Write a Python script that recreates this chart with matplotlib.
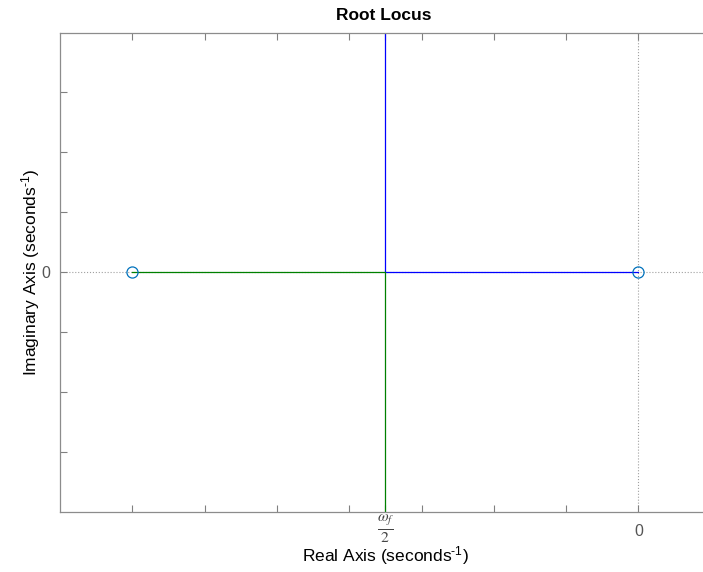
import matplotlib
matplotlib.use("Agg")
import matplotlib.pyplot as plt
import matplotlib.transforms as mtransforms

plt.rcParams['font.family'] = ['Liberation Sans', 'DejaVu Sans']
plt.rcParams['mathtext.fontset'] = 'custom'
plt.rcParams['mathtext.rm'] = 'Liberation Sans'
plt.rcParams['mathtext.it'] = 'Liberation Sans:italic'

# zeros of the open-loop system (real axis)
zeros_re = [-7.0, 0.0]
zeros_im = [0.0, 0.0]
# breakaway point (omega_f / 2)
brk = -3.5

# branch 1 (blue): from zero at 0 to breakaway, then upward
b1_re = [0.0, brk, brk]
b1_im = [0.0, 0.0, 4.0]
# branch 2 (green): from zero at -7 to breakaway, then downward
b2_re = [-7.0, brk, brk]
b2_im = [0.0, 0.0, -4.0]

xticks = [-7, -6, -5, -4, -3.5, -3, -2, -1, 0]
xlabels = ['', '', '', '', '', '', '', '', '0']
brk_label = r'$\frac{\omega_f}{2}$'
yticks = [-3, -2, -1, 0, 1, 2, 3]
ylabels = ['', '', '', '0', '', '', '']

fig = plt.figure(figsize=(7.03, 5.72), dpi=100)
unit = 72.3
ax_w = 9.5 * unit
ax = fig.add_axes([60 / 703, 1 - 512 / 572, ax_w / 703, 479.5 / 572])

ax.axhline(0, color='#a0a0a0', ls=':', lw=0.8, zorder=1)
ax.axvline(0, color='#a0a0a0', ls=':', lw=0.8, zorder=1)

ax.plot(b1_re, b1_im, color='#0000ff', lw=0.9, zorder=2)
ax.plot(b2_re, b2_im, color='#008000', lw=0.9, zorder=2)
ax.plot(zeros_re, zeros_im, 'o', mfc='none', mec='#0072bd', ms=8, mew=0.9, zorder=3)

ax.set_xlim(-8, 1.5)
ax.set_ylim(-4, 4)
ax.set_xticks(xticks)
ax.set_xticklabels(xlabels)
ax.set_yticks(yticks)
ax.set_yticklabels(ylabels)

# omega_f / 2 label under the breakaway tick
trans = mtransforms.blended_transform_factory(ax.transData, ax.transAxes)
ax.text(brk, -(529 - 512) / 479.5, brk_label, transform=trans,
        ha='center', va='center', fontsize=16, color='#444444',
        math_fontfamily='stix')

ax.tick_params(direction='in', length=5, width=0.8, color='#808080',
               labelcolor='#555555', labelsize=11.5, top=True, right=False)
ax.tick_params(axis='x', pad=9)
ax.tick_params(axis='y', pad=7)
for s in ax.spines.values():
    s.set_color('#8c8c8c')
    s.set_linewidth(0.9)
ax.spines['right'].set_visible(False)

ax.set_title('Root Locus', fontsize=12.5, fontweight='bold', pad=9)
ax.title.set_x((384 - 60) / ax_w)
ax.set_xlabel(r'Real Axis (seconds$^{\mathregular{\text{-}1}}$)', fontsize=12.5)
ax.set_ylabel(r'Imaginary Axis (seconds$^{\mathregular{\text{-}1}}$)', fontsize=12.5)
ax.xaxis.set_label_coords((385 - 60) / ax_w, -(556 - 512) / 479.5)
ax.xaxis.label.set_va('center')
ax.yaxis.set_label_coords(-29 / ax_w, 0.5)
ax.yaxis.label.set_va('center')

fig.savefig('out.png', dpi=100)
